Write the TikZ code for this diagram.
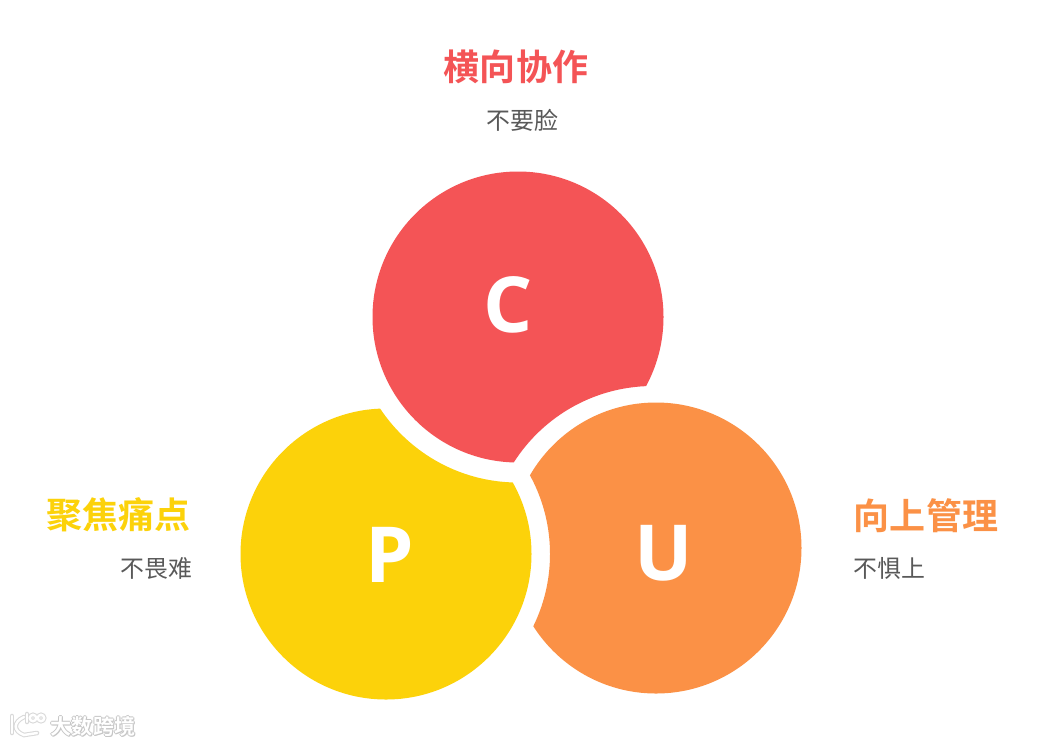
\documentclass[tikz,border=0pt]{standalone}
\usepackage{fontspec}
\newfontfamily\cjkbold{Noto Sans CJK SC Bold}
\newfontfamily\cjkreg{Noto Sans CJK SC}
\newfontfamily\letterfont{Open Sans}[BoldFont={Open Sans Bold}]
\definecolor{redC}{HTML}{F45456}
\definecolor{yellowP}{HTML}{FCD20A}
\definecolor{orangeU}{HTML}{FB9146}
\definecolor{subgray}{HTML}{595959}
\tikzset{
  headtext/.style={font=\cjkbold\fontsize{20.5}{24}\selectfont},
  subtext/.style={font=\cjkreg\fontsize{13.6}{16}\selectfont,text=subgray},
  lettertext/.style={font=\letterfont\bfseries\fontsize{44}{50}\selectfont,text=white},
  marktext/.style={font=\cjkbold\fontsize{12}{14}\selectfont},
  markshade/.style={draw=gray!30,line width=2.6pt,line cap=round},
  markline/.style={draw=white,line width=1.4pt,line cap=round}
}
\newcommand{\logopath}[1]{
\draw[#1] (12,716) -- (12,733);
\draw[#1] (24,717) .. controls (13,722) and (13,731) .. (24,735) -- (37,733);
\draw[#1] (27,714) -- (27,722);
\draw[#1] (33,718) circle (3.2);
\draw[#1] (41,718) circle (3.2);
}
\begin{document}
\begin{tikzpicture}[x=0.02cm,y=-0.02cm]
\useasboundingbox (0,0) rectangle (1044,745);
\fill[white] (0,0) rectangle (1044,745);
% each disc loses the ring of the next one
\begin{scope}[even odd rule]
\clip (0,0) rectangle (1044,745) (653,551) circle (165);
\fill[redC] (518,317) circle (145.5);
\end{scope}
\begin{scope}[even odd rule]
\clip (0,0) rectangle (1044,745) (518,317) circle (165.5);
\fill[yellowP] (386,554) circle (145.5);
\end{scope}
\begin{scope}[even odd rule]
\clip (0,0) rectangle (1044,745) (386,554) circle (164);
\fill[orangeU] (656,548) circle (145.5);
\end{scope}
\node[lettertext] (letterC) at (508,305) {C};
\node[lettertext] (letterP) at (390,555) {P};
\node[lettertext] (letterU) at (664,553) {U};
\node[headtext,text=redC] (headC) at (516,67) {横向协作};
\node[subtext] (subC) at (522.5,120) {不要脸};
\node[headtext,text=yellowP] (headP) at (118.5,515) {聚焦痛点};
\node[subtext] (subP) at (156.5,568) {不畏难};
\node[headtext,text=orangeU] (headU) at (926,516) {向上管理};
\node[subtext] (subU) at (889.5,568) {不惧上};
% corner mark
\logopath{markshade}
\logopath{markline}
\foreach \dx/\dy in {-1/0,1/0,0/-1,0/1,1/1}
  \node[marktext,text=gray!45] (shade\dx\dy) at (93+\dx,726+\dy) {大数跨境};
\node[marktext,text=white] (mark) at (93,726) {大数跨境};
\end{tikzpicture}
\end{document}
